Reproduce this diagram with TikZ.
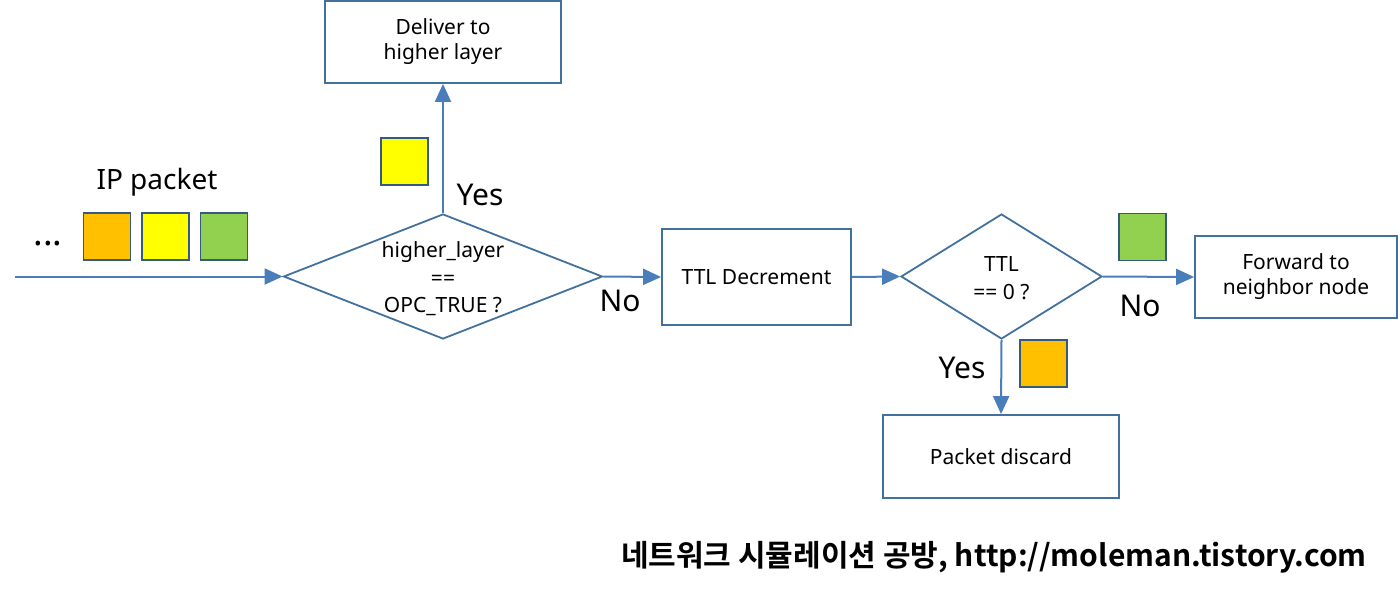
\documentclass[tikz,border=0pt]{standalone}
\usepackage{fontspec}
\setmainfont{Noto Sans}
\newfontfamily\krfont{Noto Sans CJK KR}[BoldFont={* Bold}]
\usetikzlibrary{shapes.geometric,arrows.meta}
\definecolor{conn}{HTML}{4A7EBB}
\definecolor{edge}{HTML}{41719C}
\definecolor{sqorange}{HTML}{FFC000}
\definecolor{sqyellow}{HTML}{FFFF00}
\definecolor{sqgreen}{HTML}{92D050}
\tikzset{
  boxnode/.style={draw=edge, line width=1.8pt, rectangle, inner sep=0pt, align=center,
    font=\fontsize{21}{25}\selectfont},
  decide/.style={draw=edge, line width=1.8pt, diamond, inner sep=0pt},
  decidetext/.style={align=center, inner sep=0pt, font=\fontsize{21}{27.5}\selectfont},
  pkt/.style={draw=edge!80!black, line width=1.6pt, rectangle, minimum width=47pt, minimum height=47pt, inner sep=0pt},
  flow/.style={draw=conn, line width=2pt, -{Triangle[length=18pt,width=16pt]}},
  answer/.style={font=\fontsize{30}{34}\selectfont, inner sep=0pt},
}
\begin{document}
\begin{tikzpicture}[x=1pt,y=-1pt]
\useasboundingbox (0,0) rectangle (1398,590);
% nodes
\node[boxnode, minimum width=236pt, minimum height=82pt] (deliver) at (443,42) {Deliver to\\higher layer};
\node[decide, minimum width=319pt, minimum height=125pt] (d1) at (443,276.5) {};
\node[decidetext] (d1text) at (443,279) {higher\_layer\\==\\OPC\_TRUE ?};
\node[boxnode, minimum width=189pt, minimum height=96pt] (ttl) at (756.5,277) {TTL Decrement};
\node[decide, minimum width=201pt, minimum height=125pt] (d2) at (1001.5,276.5) {};
\node[decidetext] (d2text) at (1001.5,278) {TTL\\== 0 ?};
\node[boxnode, minimum width=202pt, minimum height=82pt] (fwd) at (1296,277) {Forward to\\neighbor node};
\node[boxnode, minimum width=236pt, minimum height=83pt] (discard) at (1001,456.5) {Packet discard};
\coordinate (src) at (15,276.5);
% packets
\node[font=\fontsize{28}{32}\selectfont, inner sep=0pt] (iplabel) at (157,182) {IP packet};
\node[font=\fontsize{36}{40}\selectfont\bfseries, inner sep=0pt, anchor=base] (dots) at (48,245) {...};
\node[pkt, fill=sqorange] (p1) at (107,236.5) {};
\node[pkt, fill=sqyellow] (p2) at (165.5,236.5) {};
\node[pkt, fill=sqgreen] (p3) at (224,236.5) {};
\node[pkt, fill=sqyellow] (py) at (404.5,161.5) {};
\node[pkt, fill=sqgreen] (pg) at (1142.5,237) {};
\node[pkt, fill=sqorange] (po) at (1043.5,363.5) {};
% labels
\node[answer] (yes1) at (480,195) {Yes};
\node[answer] (no1) at (620,301) {No};
\node[answer] (no2) at (1140,306) {No};
\node[answer] (yes2) at (962,368) {Yes};
% connectors
\draw[flow] (src) -- (d1.west);
\draw[flow] (d1.north) -- (deliver.south);
\draw[flow] (d1.east) -- (ttl.west);
\draw[flow] (ttl.east) -- (d2.west);
\draw[flow] (d2.east) -- (fwd.west);
\draw[flow] (d2.south) -- (discard.north);
% footer
\node[font=\krfont\bfseries\fontsize{30}{34}\selectfont, anchor=east, inner sep=0pt] (footer) at (1367,557) {네트워크 시뮬레이션 공방, http://moleman.tistory.com};
\end{tikzpicture}
\end{document}
